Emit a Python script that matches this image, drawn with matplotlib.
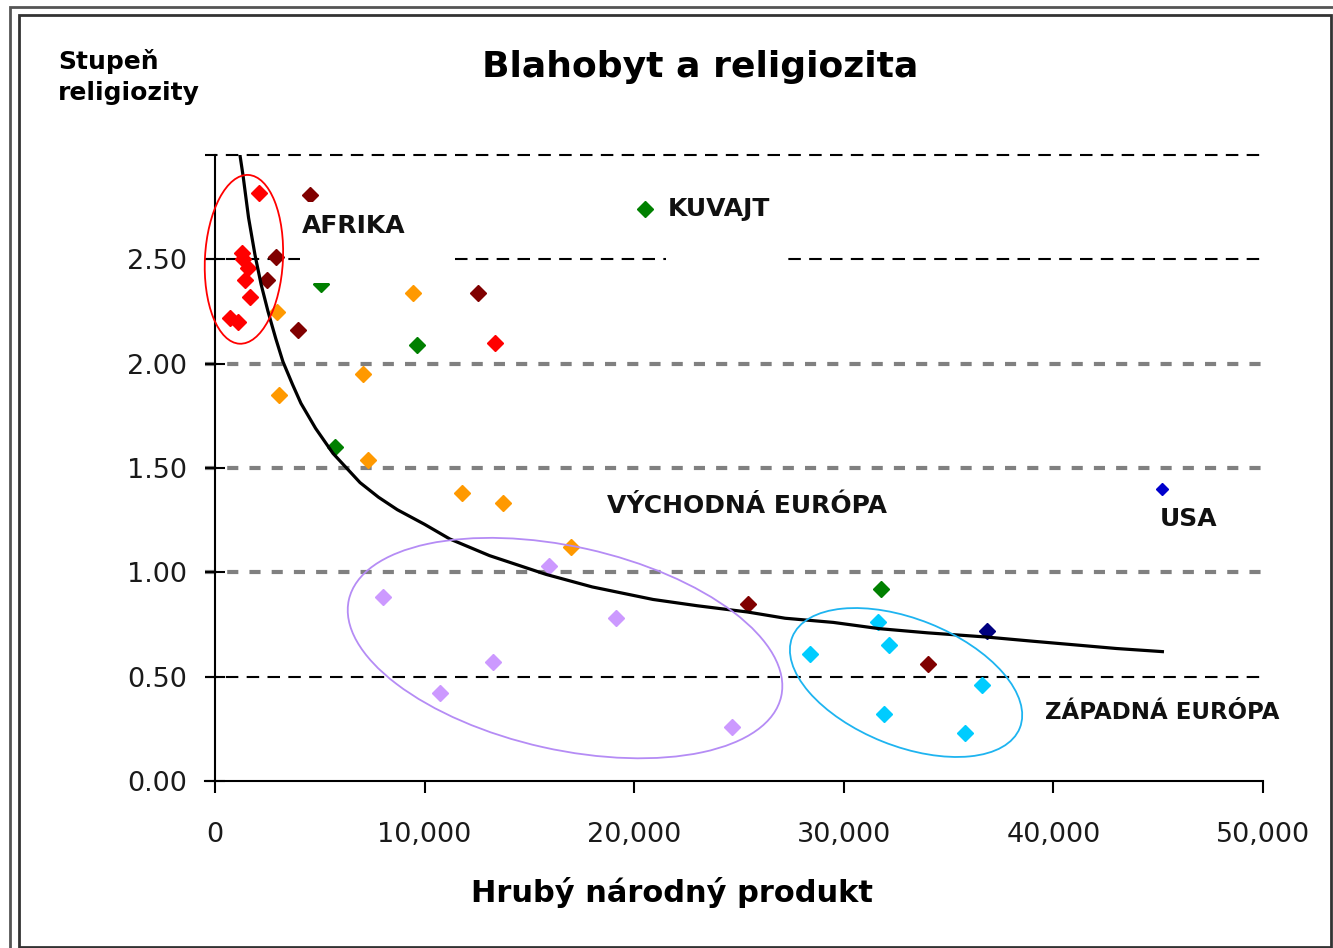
import matplotlib
matplotlib.use("Agg")
import matplotlib.pyplot as plt
from matplotlib.patches import Ellipse, Rectangle
from matplotlib.transforms import ScaledTranslation
from matplotlib.ticker import FuncFormatter

plt.rcParams['font.family'] = ['DejaVu Sans']
plt.rcParams['lines.scale_dashes'] = False

# HNP (v tisicoch) a stupen religiozity, podla farby skupiny
red_x = [2.1, 1.29, 1.34, 1.57, 1.43, 1.67, 0.72, 1.10, 13.36]
red_y = [2.82, 2.53, 2.50, 2.46, 2.40, 2.32, 2.22, 2.20, 2.10]
darkred_x = [4.53, 2.91, 2.48, 3.96, 12.55, 25.43, 34.02]
darkred_y = [2.81, 2.51, 2.40, 2.16, 2.34, 0.85, 0.56]
orange_x = [2.96, 9.45, 7.06, 3.05, 7.3, 11.78, 13.74, 16.98]
orange_y = [2.25, 2.34, 1.95, 1.85, 1.54, 1.38, 1.33, 1.12]
green_x = [5.06, 9.64, 5.73, 31.77, 20.52]
green_y = [2.38, 2.09, 1.60, 0.92, 2.74]
lilac_x = [15.93, 8.0, 19.13, 13.26, 10.73, 24.67]
lilac_y = [1.03, 0.88, 0.78, 0.57, 0.42, 0.26]
cyan_x = [31.63, 32.16, 28.39, 36.6, 31.92, 35.78]
cyan_y = [0.76, 0.65, 0.61, 0.46, 0.32, 0.23]
navy_x = [36.83]
navy_y = [0.72]
usa_x = [45.18]
usa_y = [1.40]

# trendova krivka (odcitana z obrazka)
trend_x = [1.19, 1.34, 1.6, 1.91, 2.2, 2.53, 2.9, 3.24, 3.7, 4.1, 4.8, 5.63, 6.92, 7.8,
           8.7, 10.0, 11.2, 13.1, 15.8, 18.0, 20.9, 23.0, 25.4, 27.2, 29.5, 31.7, 34.0,
           36.8, 39.0, 41.3, 43.0, 45.2]
trend_y = [3.00, 2.90, 2.70, 2.52, 2.38, 2.25, 2.12, 2.01, 1.90, 1.81, 1.69, 1.57, 1.43,
           1.36, 1.30, 1.23, 1.16, 1.08, 0.99, 0.93, 0.87, 0.84, 0.81, 0.78, 0.76, 0.73,
           0.71, 0.69, 0.67, 0.65, 0.635, 0.62]

yticks = [0, 0.5, 1.0, 1.5, 2.0, 2.5]
xticks = [0, 10000, 20000, 30000, 40000, 50000]

fig = plt.figure(figsize=(13.33, 9.48), dpi=100)
ax = fig.add_axes([215/1333, 1-781/948, (1263-215)/1333, (781-155)/948])

k = lambda v: [a * 1000 for a in v]

# mriezka
grid_black = dict(color='black', lw=1.5, linestyle=(0, (9, 6)))
grid_gray = dict(color='#808080', lw=3, linestyle=(0, (8, 8)))
for yv, st in [(3.0, grid_black), (2.5, grid_black), (2.0, grid_gray),
               (1.5, grid_gray), (1.0, grid_gray), (0.5, grid_black)]:
    ax.hlines(yv, -480, 50100, clip_on=False, zorder=1, **st)

ms = 8
series = [
    (red_x, red_y, '#FF0000'),
    (darkred_x, darkred_y, '#800000'),
    (orange_x, orange_y, '#FF9900'),
    (green_x, green_y, '#008000'),
    (lilac_x, lilac_y, '#CC99FF'),
    (cyan_x, cyan_y, '#00CCFF'),
    (navy_x, navy_y, '#000080'),
]
for xs, ys, c in series:
    ax.plot(k(xs), ys, 'D', color=c, ms=ms, mec=c, zorder=3, clip_on=False)
ax.plot(k(usa_x), usa_y, 'D', color='#0000CC', ms=6.5, zorder=3)

ax.plot(k(trend_x), trend_y, color='black', lw=2.3, zorder=4, solid_joinstyle='round')

# biele textove polia z povodneho grafu
ax.add_patch(Rectangle((4060, 2.385), 7100, 0.39, facecolor='white', edgecolor='none', zorder=5))
ax.add_patch(Rectangle((21500, 2.47), 5600, 0.2, facecolor='white', edgecolor='none', zorder=5))

lab = dict(fontsize=18, fontweight='bold', color='#111111', va='center', ha='left', zorder=6)
ax.text(4150, 2.66, 'AFRIKA', **lab)
ax.text(21600, 2.74, 'KUVAJT', **lab)
ax.text(18700, 1.32, 'VÝCHODNÁ EURÓPA', **lab)
ax.text(45080, 1.255, 'USA', **lab)
ax.text(39600, 0.33, 'ZÁPADNÁ EURÓPA', **dict(lab, fontsize=16.5))

# elipsy (rozmery v pixeloch / 100)
ellipses = [((1380, 2.50), 0.78, 1.69, -3, '#FF0000'),
            ((16700, 0.637), 4.43, 2.03, -12.6, '#B58CF5'),
            ((32970, 0.472), 2.45, 1.27, -21.8, '#1EB4F0')]
for (cx, cy), w, h, ang, c in ellipses:
    tr = fig.dpi_scale_trans + ScaledTranslation(cx, cy, ax.transData)
    ax.add_patch(Ellipse((0, 0), w, h, angle=ang, transform=tr, fill=False,
                         edgecolor=c, lw=1.3, zorder=7, clip_on=False))

ax.set_xlim(0, 50000)
ax.set_ylim(0, 3.0)
ax.set_xticks(xticks)
ax.set_yticks(yticks)
ax.xaxis.set_major_formatter(FuncFormatter(lambda v, p: f'{int(v):,}'))
ax.yaxis.set_major_formatter(FuncFormatter(lambda v, p: f'{v:.2f}'))
ax.tick_params(axis='y', direction='inout', length=14, width=1.5, pad=13,
               labelsize=19.5, labelcolor='#1a1a1a')
ax.tick_params(axis='x', direction='out', length=8.5, width=1.5, pad=21,
               labelsize=19.5, labelcolor='#1a1a1a')
for s in ['top', 'right']:
    ax.spines[s].set_visible(False)
ax.spines['left'].set_linewidth(1.5)
ax.spines['bottom'].set_linewidth(1.5)
ax.spines['bottom'].set_bounds(-480, 50000)

fig.text(700/1333, 1-67/948, 'Blahobyt a religiozita', fontsize=26, fontweight='bold',
         ha='center', va='center')
fig.text(58/1333, 1-62/948, 'Stupeň', fontsize=18, fontweight='bold', ha='left', va='center')
fig.text(58/1333, 1-93/948, 'religiozity', fontsize=18, fontweight='bold', ha='left', va='center')
fig.text(672/1333, 1-892/948, 'Hrubý národný produkt', fontsize=22, fontweight='bold',
         ha='center', va='center')

# ramcek
fig.patches.append(Rectangle((10/1333, -0.01), 1.1, 1 - 7/948 + 0.01, transform=fig.transFigure,
                             fill=False, edgecolor='#555555', lw=2))
fig.patches.append(Rectangle((19/1333, 1/948), 1312/1333, 1 - 16/948, transform=fig.transFigure,
                             fill=False, edgecolor='#333333', lw=2))

fig.savefig('out.png', dpi=100)
